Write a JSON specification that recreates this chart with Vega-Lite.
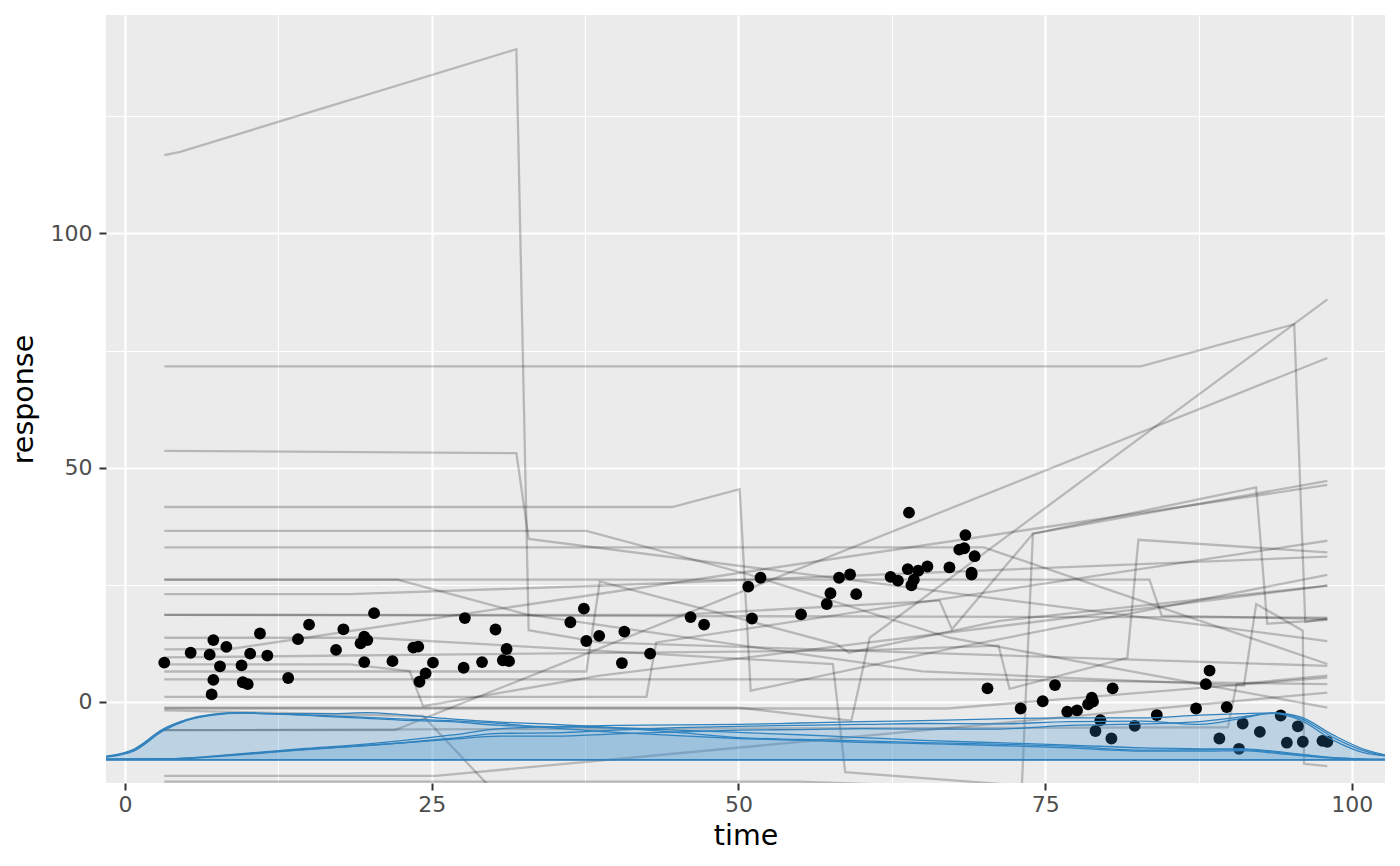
{
  "$schema": "https://vega.github.io/schema/vega-lite/v6.json",
  "description": "response over time: paths, points and density curves",
  "autosize": {"type": "none"},
  "width": 1279,
  "height": 768,
  "padding": {"left": 106, "top": 15, "right": 15, "bottom": 83},
  "background": "#ffffff",
  "datasets": {
    "points": [
      {"t": 3.2, "r": 8.4}, {"t": 5.35, "r": 10.5}, {"t": 7.2, "r": 13.2}, {"t": 6.9, "r": 10.1},
      {"t": 8.26, "r": 11.75}, {"t": 7.74, "r": 7.6}, {"t": 7.2, "r": 4.7}, {"t": 7.06, "r": 1.6},
      {"t": 11.0, "r": 14.6}, {"t": 10.2, "r": 10.3}, {"t": 11.6, "r": 9.9}, {"t": 9.5, "r": 7.8},
      {"t": 9.6, "r": 4.2}, {"t": 10.0, "r": 3.8}, {"t": 13.3, "r": 5.1}, {"t": 14.1, "r": 13.4},
      {"t": 15.0, "r": 16.5}, {"t": 17.8, "r": 15.5}, {"t": 17.2, "r": 11.1}, {"t": 19.5, "r": 13.95},
      {"t": 19.2, "r": 12.5}, {"t": 19.75, "r": 13.2}, {"t": 19.5, "r": 8.5}, {"t": 20.3, "r": 18.95},
      {"t": 21.8, "r": 8.7}, {"t": 23.5, "r": 11.6}, {"t": 23.9, "r": 11.8}, {"t": 25.1, "r": 8.4},
      {"t": 24.5, "r": 6.1}, {"t": 24.0, "r": 4.3}, {"t": 27.7, "r": 17.9}, {"t": 27.6, "r": 7.3},
      {"t": 29.1, "r": 8.5}, {"t": 30.2, "r": 15.45}, {"t": 31.1, "r": 11.3}, {"t": 30.8, "r": 8.9},
      {"t": 31.3, "r": 8.7}, {"t": 36.3, "r": 17.0}, {"t": 37.4, "r": 19.9}, {"t": 37.6, "r": 13.0},
      {"t": 38.65, "r": 14.1}, {"t": 40.7, "r": 15.0}, {"t": 40.5, "r": 8.3}, {"t": 42.8, "r": 10.3},
      {"t": 46.1, "r": 18.1}, {"t": 47.2, "r": 16.5}, {"t": 50.8, "r": 24.6}, {"t": 51.8, "r": 26.5},
      {"t": 51.1, "r": 17.8}, {"t": 55.1, "r": 18.7}, {"t": 57.2, "r": 20.9}, {"t": 57.5, "r": 23.2},
      {"t": 58.2, "r": 26.5}, {"t": 59.1, "r": 27.2}, {"t": 59.6, "r": 23.0}, {"t": 62.4, "r": 26.7},
      {"t": 63.0, "r": 25.9}, {"t": 63.9, "r": 40.4}, {"t": 63.8, "r": 28.35}, {"t": 64.65, "r": 28.0},
      {"t": 65.4, "r": 28.9}, {"t": 64.3, "r": 26.1}, {"t": 64.1, "r": 24.9}, {"t": 67.2, "r": 28.7},
      {"t": 68.5, "r": 35.6}, {"t": 68.0, "r": 32.5}, {"t": 68.4, "r": 32.8}, {"t": 69.25, "r": 31.1},
      {"t": 69.0, "r": 27.2}, {"t": 69.0, "r": 27.6}, {"t": 70.3, "r": 2.9}, {"t": 73.0, "r": -1.4},
      {"t": 74.8, "r": 0.15}, {"t": 75.8, "r": 3.6}, {"t": 76.8, "r": -2.1}, {"t": 77.6, "r": -1.8},
      {"t": 78.5, "r": -0.5}, {"t": 78.8, "r": 0.9}, {"t": 78.9, "r": 0.1}, {"t": 79.5, "r": -3.9},
      {"t": 79.1, "r": -6.2}, {"t": 80.4, "r": -7.8}, {"t": 80.5, "r": 2.9}, {"t": 82.3, "r": -5.1},
      {"t": 84.1, "r": -2.8}, {"t": 87.3, "r": -1.4}, {"t": 88.1, "r": 3.8}, {"t": 88.4, "r": 6.7},
      {"t": 89.8, "r": -1.1}, {"t": 89.2, "r": -7.8}, {"t": 91.1, "r": -4.6}, {"t": 90.8, "r": -10.0},
      {"t": 92.5, "r": -6.4}, {"t": 94.2, "r": -2.9}, {"t": 94.7, "r": -8.7}, {"t": 95.6, "r": -5.2},
      {"t": 96.0, "r": -8.5}, {"t": 97.6, "r": -8.3}, {"t": 98.0, "r": -8.5}
    ],
    "paths": [
      {"id": 1, "t": 3.2, "r": 116.7}, {"id": 1, "t": 4.5, "r": 117.4}, {"id": 1, "t": 31.9, "r": 139.3}, {"id": 1, "t": 32.9, "r": 15.3}, {"id": 1, "t": 38.7, "r": 12.7}, {"id": 1, "t": 98, "r": 7.7},
      {"id": 2, "t": 3.2, "r": 71.6}, {"id": 2, "t": 82.8, "r": 71.6}, {"id": 2, "t": 95.3, "r": 80.6}, {"id": 2, "t": 96.2, "r": 17.1}, {"id": 2, "t": 98, "r": 17.8},
      {"id": 3, "t": 3.2, "r": 53.6}, {"id": 3, "t": 31.9, "r": 53.1}, {"id": 3, "t": 32.9, "r": 34.8}, {"id": 3, "t": 98, "r": 13.0},
      {"id": 4, "t": 3.2, "r": 41.6}, {"id": 4, "t": 44.6, "r": 41.6}, {"id": 4, "t": 50.1, "r": 45.4}, {"id": 4, "t": 51.0, "r": 2.4}, {"id": 4, "t": 67.2, "r": 11.3}, {"id": 4, "t": 98, "r": 27.1},
      {"id": 5, "t": 3.2, "r": 36.5}, {"id": 5, "t": 37.6, "r": 36.5}, {"id": 5, "t": 50.7, "r": 27.3}, {"id": 5, "t": 67.2, "r": 13.7}, {"id": 5, "t": 98, "r": -1.2},
      {"id": 6, "t": 3.2, "r": 33.0}, {"id": 6, "t": 70, "r": 33.0}, {"id": 6, "t": 98, "r": 8.1},
      {"id": 7, "t": 3.2, "r": 26.1}, {"id": 7, "t": 22.2, "r": 26.1}, {"id": 7, "t": 32.7, "r": 18.7}, {"id": 7, "t": 65, "r": 6.5}, {"id": 7, "t": 91.2, "r": 3.5}, {"id": 7, "t": 92.2, "r": 20.9}, {"id": 7, "t": 96.0, "r": 15.2}, {"id": 7, "t": 96.1, "r": -13.2}, {"id": 7, "t": 98, "r": -13.7},
      {"id": 8, "t": 3.2, "r": 26.1}, {"id": 8, "t": 83.5, "r": 26.1}, {"id": 8, "t": 84.5, "r": 18.4}, {"id": 8, "t": 98, "r": 17.7},
      {"id": 9, "t": 3.2, "r": 23.0}, {"id": 9, "t": 18.3, "r": 23.0}, {"id": 9, "t": 38.7, "r": 24.8}, {"id": 9, "t": 98, "r": 31.0},
      {"id": 10, "t": 3.2, "r": 18.6}, {"id": 10, "t": 98, "r": 18.0},
      {"id": 11, "t": 3.2, "r": 18.6}, {"id": 11, "t": 45, "r": 18.6}, {"id": 11, "t": 66.4, "r": 21.6}, {"id": 11, "t": 67.4, "r": 15.5}, {"id": 11, "t": 74.0, "r": 35.9}, {"id": 11, "t": 92.2, "r": 45.8}, {"id": 11, "t": 93.1, "r": 16.7}, {"id": 11, "t": 98, "r": 17.5},
      {"id": 12, "t": 3.2, "r": -1.4}, {"id": 12, "t": 67, "r": -1.4}, {"id": 12, "t": 98, "r": 5.2},
      {"id": 13, "t": 3.2, "r": -1.8}, {"id": 13, "t": 24.3, "r": -3.0}, {"id": 13, "t": 29.5, "r": -17.5}, {"id": 13, "t": 45, "r": -30}, {"id": 13, "t": 72.9, "r": -30}, {"id": 13, "t": 74.0, "r": 35.9}, {"id": 13, "t": 98, "r": 47.2},
      {"id": 14, "t": 3.2, "r": -15.8}, {"id": 14, "t": 25.3, "r": -15.8}, {"id": 14, "t": 98, "r": 2.0},
      {"id": 15, "t": 3.2, "r": -17.0}, {"id": 15, "t": 55, "r": -17.0}, {"id": 15, "t": 98, "r": -21},
      {"id": 16, "t": 3.2, "r": -6.0}, {"id": 16, "t": 89.9, "r": -5.4}, {"id": 16, "t": 90.6, "r": 3.8}, {"id": 16, "t": 98, "r": 5.6},
      {"id": 17, "t": 3.2, "r": 1.1}, {"id": 17, "t": 42.5, "r": 1.1}, {"id": 17, "t": 43.3, "r": 12.7}, {"id": 17, "t": 98, "r": 34.4},
      {"id": 18, "t": 3.2, "r": 4.8}, {"id": 18, "t": 70, "r": 4.8}, {"id": 18, "t": 98, "r": 3.8},
      {"id": 19, "t": 3.2, "r": 6.5}, {"id": 19, "t": 37.6, "r": 6.5}, {"id": 19, "t": 38.7, "r": 25.7}, {"id": 19, "t": 58, "r": 12.3}, {"id": 19, "t": 59, "r": 10.5}, {"id": 19, "t": 71.3, "r": 17.3}, {"id": 19, "t": 98, "r": 24.8},
      {"id": 20, "t": 3.2, "r": 8.0}, {"id": 20, "t": 18.3, "r": 8.0}, {"id": 20, "t": 23.2, "r": 6.6}, {"id": 20, "t": 24.3, "r": -0.9}, {"id": 20, "t": 38.7, "r": 5.6}, {"id": 20, "t": 98, "r": 24.8},
      {"id": 21, "t": 3.2, "r": 11.2}, {"id": 21, "t": 8.6, "r": 11.3}, {"id": 21, "t": 98, "r": 46.3},
      {"id": 22, "t": 3.2, "r": 13.7}, {"id": 22, "t": 20, "r": 13.7}, {"id": 22, "t": 57.7, "r": 8.1}, {"id": 22, "t": 58.7, "r": -15.0}, {"id": 22, "t": 71.3, "r": -17.5}, {"id": 22, "t": 98, "r": -22},
      {"id": 23, "t": 3.2, "r": -1.2}, {"id": 23, "t": 50, "r": -1.2}, {"id": 23, "t": 59.2, "r": -4.0}, {"id": 23, "t": 60.7, "r": 13.7}, {"id": 23, "t": 98, "r": 85.9},
      {"id": 24, "t": 3.2, "r": -6.0}, {"id": 24, "t": 22, "r": -6.0}, {"id": 24, "t": 98, "r": 73.4},
      {"id": 25, "t": 3.2, "r": 9.5}, {"id": 25, "t": 60, "r": 11}, {"id": 25, "t": 71.2, "r": 12}, {"id": 25, "t": 72.1, "r": 2.8}, {"id": 25, "t": 81.7, "r": 9.4}, {"id": 25, "t": 82.6, "r": 34.6}, {"id": 25, "t": 98, "r": 31.9}
    ],
    "dens": [
      {"g": "La", "t": -4, "r": -12.2}, {"g": "La", "t": -1.55, "r": -11.7}, {"g": "La", "t": 0.7, "r": -10.3}, {"g": "La", "t": 3.1, "r": -6.0}, {"g": "La", "t": 5, "r": -3.9}, {"g": "La", "t": 7.2, "r": -2.7}, {"g": "La", "t": 9.4, "r": -2.35}, {"g": "La", "t": 12.4, "r": -2.5}, {"g": "La", "t": 17, "r": -2.5}, {"g": "La", "t": 19.7, "r": -2.3}, {"g": "La", "t": 22.4, "r": -2.7}, {"g": "La", "t": 26.5, "r": -3.6}, {"g": "La", "t": 30.6, "r": -4.3}, {"g": "La", "t": 35, "r": -4.8}, {"g": "La", "t": 40, "r": -5.5}, {"g": "La", "t": 45, "r": -6.0}, {"g": "La", "t": 50, "r": -6.5}, {"g": "La", "t": 55, "r": -7.0}, {"g": "La", "t": 60, "r": -7.6}, {"g": "La", "t": 65, "r": -8.2}, {"g": "La", "t": 71, "r": -8.7}, {"g": "La", "t": 77, "r": -9.2}, {"g": "La", "t": 83, "r": -9.8}, {"g": "La", "t": 88, "r": -10.0}, {"g": "La", "t": 91, "r": -10.1}, {"g": "La", "t": 94, "r": -10.8}, {"g": "La", "t": 96, "r": -11.3}, {"g": "La", "t": 98.5, "r": -11.9}, {"g": "La", "t": 101, "r": -12.2}, {"g": "La", "t": 104, "r": -12.3},
      {"g": "Lb", "t": -4, "r": -12.2}, {"g": "Lb", "t": -1.55, "r": -11.6}, {"g": "Lb", "t": 0.7, "r": -10.1}, {"g": "Lb", "t": 3.1, "r": -5.8}, {"g": "Lb", "t": 5, "r": -3.8}, {"g": "Lb", "t": 7.2, "r": -2.6}, {"g": "Lb", "t": 9.4, "r": -2.3}, {"g": "Lb", "t": 12.4, "r": -2.5}, {"g": "Lb", "t": 17, "r": -3.2}, {"g": "Lb", "t": 19.7, "r": -3.5}, {"g": "Lb", "t": 22.4, "r": -3.9}, {"g": "Lb", "t": 26.5, "r": -4.2}, {"g": "Lb", "t": 30.6, "r": -5.0}, {"g": "Lb", "t": 35, "r": -5.3}, {"g": "Lb", "t": 40, "r": -5.6}, {"g": "Lb", "t": 45, "r": -6.5}, {"g": "Lb", "t": 50, "r": -7.6}, {"g": "Lb", "t": 55, "r": -8.0}, {"g": "Lb", "t": 60, "r": -8.3}, {"g": "Lb", "t": 65, "r": -8.7}, {"g": "Lb", "t": 71, "r": -9.0}, {"g": "Lb", "t": 77, "r": -9.5}, {"g": "Lb", "t": 83, "r": -10.3}, {"g": "Lb", "t": 88, "r": -10.2}, {"g": "Lb", "t": 91, "r": -10.0}, {"g": "Lb", "t": 94, "r": -10.6}, {"g": "Lb", "t": 96, "r": -11.2}, {"g": "Lb", "t": 98.5, "r": -11.9}, {"g": "Lb", "t": 101, "r": -12.2}, {"g": "Lb", "t": 104, "r": -12.3},
      {"g": "Lc", "t": -4, "r": -12.2}, {"g": "Lc", "t": -1.55, "r": -11.8}, {"g": "Lc", "t": 0.7, "r": -10.5}, {"g": "Lc", "t": 3.1, "r": -6.2}, {"g": "Lc", "t": 5, "r": -4.0}, {"g": "Lc", "t": 7.2, "r": -2.8}, {"g": "Lc", "t": 9.4, "r": -2.4}, {"g": "Lc", "t": 12.4, "r": -2.6}, {"g": "Lc", "t": 17, "r": -3.0}, {"g": "Lc", "t": 19.7, "r": -3.3}, {"g": "Lc", "t": 22.4, "r": -3.6}, {"g": "Lc", "t": 26.5, "r": -4.0}, {"g": "Lc", "t": 30.6, "r": -4.6}, {"g": "Lc", "t": 35, "r": -5.6}, {"g": "Lc", "t": 40, "r": -6.5}, {"g": "Lc", "t": 45, "r": -7.2}, {"g": "Lc", "t": 50, "r": -7.8}, {"g": "Lc", "t": 55, "r": -8.2}, {"g": "Lc", "t": 60, "r": -8.6}, {"g": "Lc", "t": 65, "r": -8.9}, {"g": "Lc", "t": 71, "r": -9.3}, {"g": "Lc", "t": 77, "r": -9.8}, {"g": "Lc", "t": 83, "r": -10.5}, {"g": "Lc", "t": 88, "r": -10.5}, {"g": "Lc", "t": 91, "r": -10.4}, {"g": "Lc", "t": 94, "r": -11.0}, {"g": "Lc", "t": 96, "r": -11.5}, {"g": "Lc", "t": 98.5, "r": -12.0}, {"g": "Lc", "t": 101, "r": -12.25}, {"g": "Lc", "t": 104, "r": -12.3},
      {"g": "Ra", "t": -4, "r": -12.3}, {"g": "Ra", "t": -1.55, "r": -12.2}, {"g": "Ra", "t": 3.8, "r": -12.1}, {"g": "Ra", "t": 8.8, "r": -11.2}, {"g": "Ra", "t": 14.2, "r": -10.0}, {"g": "Ra", "t": 19.6, "r": -9.0}, {"g": "Ra", "t": 26.5, "r": -7.1}, {"g": "Ra", "t": 30.6, "r": -5.7}, {"g": "Ra", "t": 35, "r": -5.3}, {"g": "Ra", "t": 40, "r": -5.0}, {"g": "Ra", "t": 45, "r": -4.9}, {"g": "Ra", "t": 50, "r": -4.8}, {"g": "Ra", "t": 55, "r": -4.5}, {"g": "Ra", "t": 60, "r": -4.2}, {"g": "Ra", "t": 65, "r": -4.0}, {"g": "Ra", "t": 71, "r": -3.6}, {"g": "Ra", "t": 77, "r": -3.4}, {"g": "Ra", "t": 83, "r": -3.4}, {"g": "Ra", "t": 87.6, "r": -2.8}, {"g": "Ra", "t": 91, "r": -2.5}, {"g": "Ra", "t": 93.6, "r": -2.35}, {"g": "Ra", "t": 95.8, "r": -3.2}, {"g": "Ra", "t": 98.5, "r": -7.1}, {"g": "Ra", "t": 101.2, "r": -10.3}, {"g": "Ra", "t": 102.7, "r": -11.3}, {"g": "Ra", "t": 104, "r": -11.8},
      {"g": "Rb", "t": -4, "r": -12.3}, {"g": "Rb", "t": -1.55, "r": -12.2}, {"g": "Rb", "t": 3.8, "r": -12.1}, {"g": "Rb", "t": 8.8, "r": -11.3}, {"g": "Rb", "t": 14.2, "r": -10.2}, {"g": "Rb", "t": 19.6, "r": -9.3}, {"g": "Rb", "t": 26.5, "r": -7.8}, {"g": "Rb", "t": 30.6, "r": -6.7}, {"g": "Rb", "t": 35, "r": -6.6}, {"g": "Rb", "t": 40, "r": -6.0}, {"g": "Rb", "t": 45, "r": -5.5}, {"g": "Rb", "t": 50, "r": -5.2}, {"g": "Rb", "t": 55, "r": -5.0}, {"g": "Rb", "t": 60, "r": -4.8}, {"g": "Rb", "t": 65, "r": -4.6}, {"g": "Rb", "t": 71, "r": -4.7}, {"g": "Rb", "t": 77, "r": -4.2}, {"g": "Rb", "t": 83, "r": -4.1}, {"g": "Rb", "t": 87.6, "r": -4.8}, {"g": "Rb", "t": 91, "r": -3.5}, {"g": "Rb", "t": 93.6, "r": -2.4}, {"g": "Rb", "t": 95.8, "r": -3.5}, {"g": "Rb", "t": 98.5, "r": -7.6}, {"g": "Rb", "t": 101.2, "r": -10.6}, {"g": "Rb", "t": 102.7, "r": -11.4}, {"g": "Rb", "t": 104, "r": -11.9},
      {"g": "Rc", "t": -4, "r": -12.3}, {"g": "Rc", "t": -1.55, "r": -12.2}, {"g": "Rc", "t": 3.8, "r": -12.2}, {"g": "Rc", "t": 8.8, "r": -11.4}, {"g": "Rc", "t": 14.2, "r": -10.3}, {"g": "Rc", "t": 19.6, "r": -9.3}, {"g": "Rc", "t": 26.5, "r": -8.0}, {"g": "Rc", "t": 30.6, "r": -7.3}, {"g": "Rc", "t": 35, "r": -7.3}, {"g": "Rc", "t": 40, "r": -6.8}, {"g": "Rc", "t": 45, "r": -6.4}, {"g": "Rc", "t": 50, "r": -6.0}, {"g": "Rc", "t": 55, "r": -5.9}, {"g": "Rc", "t": 60, "r": -5.7}, {"g": "Rc", "t": 65, "r": -5.8}, {"g": "Rc", "t": 71, "r": -5.8}, {"g": "Rc", "t": 77, "r": -5.0}, {"g": "Rc", "t": 83, "r": -4.7}, {"g": "Rc", "t": 87.6, "r": -4.2}, {"g": "Rc", "t": 91, "r": -3.2}, {"g": "Rc", "t": 93.6, "r": -2.45}, {"g": "Rc", "t": 95.8, "r": -3.9}, {"g": "Rc", "t": 98.5, "r": -8.2}, {"g": "Rc", "t": 101.2, "r": -11.0}, {"g": "Rc", "t": 102.7, "r": -11.5}, {"g": "Rc", "t": 104, "r": -12.0}
    ]
  },
  "layer": [
    {
      "data": {"name": "paths"},
      "mark": {"type": "line", "stroke": "#000000", "strokeWidth": 2.3, "opacity": 0.22, "clip": true},
      "encoding": {
        "x": {
          "field": "t", "type": "quantitative", "title": "time",
          "scale": {"domain": [-1.55, 102.7], "nice": false, "zero": false},
          "axis": {
            "values": [0, 12.5, 25, 37.5, 50, 62.5, 75, 87.5, 100],
            "labelExpr": "datum.value % 25 === 0 ? datum.label : ''",
            "gridWidth": {"condition": {"test": "datum.value % 25 !== 0", "value": 1.1}, "value": 2.2},
            "tickOpacity": {"condition": {"test": "datum.value % 25 !== 0", "value": 0}, "value": 1},
            "labelPadding": 4,
            "titlePadding": 6
          }
        },
        "y": {
          "field": "r", "type": "quantitative", "title": "response",
          "scale": {"domain": [-17.3, 146.6], "nice": false, "zero": false},
          "axis": {
            "values": [0, 25, 50, 75, 100, 125],
            "labelExpr": "datum.value % 50 === 0 ? datum.label : ''",
            "gridWidth": {"condition": {"test": "datum.value % 50 !== 0", "value": 1.1}, "value": 2.2},
            "tickOpacity": {"condition": {"test": "datum.value % 50 !== 0", "value": 0}, "value": 1},
            "labelPadding": 7,
            "titlePadding": 12
          }
        },
        "detail": {"field": "id", "type": "nominal"}
      }
    },
    {
      "data": {"name": "points"},
      "mark": {"type": "point", "shape": "circle", "filled": true, "color": "#000000", "opacity": 1, "size": 140, "clip": true},
      "encoding": {
        "x": {"field": "t", "type": "quantitative"},
        "y": {"field": "r", "type": "quantitative"}
      }
    },
    {
      "data": {"name": "dens"},
      "mark": {"type": "area", "interpolate": "monotone", "fill": "#3690d0", "fillOpacity": 0.09, "stroke": "#3182bd", "strokeWidth": 1.3, "clip": true},
      "encoding": {
        "x": {"field": "t", "type": "quantitative"},
        "y": {"field": "r", "type": "quantitative", "stack": null},
        "y2": {"datum": -12.3},
        "detail": {"field": "g", "type": "nominal"}
      }
    }
  ],
  "config": {
    "view": {"fill": "#ebebeb", "stroke": null},
    "axis": {
      "domain": false,
      "gridColor": "#ffffff",
      "tickColor": "#333333",
      "tickSize": 7,
      "tickWidth": 2,
      "labelColor": "#4d4d4d",
      "labelFont": "DejaVu Sans",
      "labelFontSize": 22,
      "titleFont": "DejaVu Sans",
      "titleFontSize": 28.5,
      "titleFontWeight": "normal",
      "titleColor": "#000000"
    }
  }
}
